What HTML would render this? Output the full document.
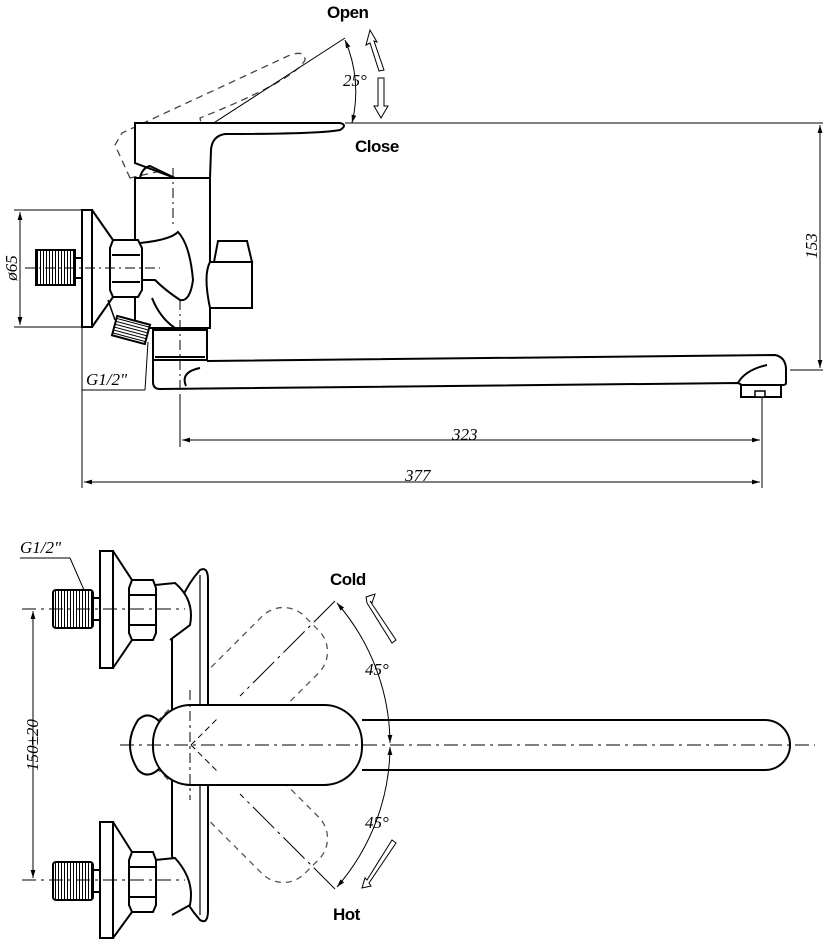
<!DOCTYPE html>
<html><head><meta charset="utf-8"><style>
html,body{margin:0;padding:0;background:#fff;width:823px;height:940px;overflow:hidden}
svg{display:block}
text{stroke:none}
.t{font-family:"Liberation Sans",sans-serif;font-weight:bold;font-size:17px;fill:#000;letter-spacing:-0.5px}
.d{font-family:"Liberation Serif",serif;font-style:italic;font-size:17px;fill:#000}
</style></head><body>
<svg width="823" height="940" viewBox="0 0 823 940" xmlns="http://www.w3.org/2000/svg" fill="none" stroke="#000" stroke-width="2">
<defs>
<marker id="a" viewBox="0 0 10 10" refX="10" refY="5" markerWidth="10" markerHeight="8" orient="auto-start-reverse" markerUnits="userSpaceOnUse"><path d="M0,2 L10,5 L0,8 z" fill="#000" stroke="none"/></marker>
<pattern id="k" width="3" height="10" patternUnits="userSpaceOnUse"><rect width="3" height="10" fill="#fff" stroke="none"/><line x1="1.5" y1="0" x2="1.5" y2="10" stroke="#000" stroke-width="1"/></pattern>
<pattern id="kh" width="10" height="3" patternUnits="userSpaceOnUse"><rect width="10" height="3" fill="#fff" stroke="none"/><line x1="0" y1="1.5" x2="10" y2="1.5" stroke="#000" stroke-width="1"/></pattern>
</defs>

<!-- ===== TOP VIEW ===== -->
<g stroke-dasharray="7,5" stroke-width="1.3" stroke="#444">
<path d="M130,178 L115,145 L122,133 L290,55 Q305,50 305,60 Q295,80 200,118 L208,160 Z"/>
</g>
<line x1="175" y1="148" x2="345" y2="38" stroke-width="1"/>
<path d="M345,40 A130,130 0 0 1 352,123" stroke-width="1" marker-start="url(#a)" marker-end="url(#a)"/>
<text class="d" x="343" y="86">25°</text>
<path d="M366,45 L370,30 L377,42 L374,41 L384,70 L379,71 L370,43 Z" stroke-width="1"/>
<path d="M378,78 L384,78 L384,106 L388,106 L381,118 L374,106 L378,106 Z" stroke-width="1"/>
<text class="t" x="327" y="18">Open</text>
<text class="t" x="355" y="152">Close</text>

<!-- handle -->
<path d="M135,123 L340,123 Q348,125 340,130 Q320,134 225,134 Q212,136 211,150 L210,178 L175,178 L135,163 Z" fill="#fff"/>
<path d="M140,178 Q142,168 150,166 L175,178" />
<rect x="135" y="178" width="75" height="150" fill="#fff"/>
<line x1="173" y1="168" x2="173" y2="225" stroke-width="1" stroke-dasharray="10,4,2,4"/>
<path d="M210,262 Q203,275 210,308 L252,308 L252,262 Z" fill="#fff"/>
<path d="M218,241 L247,241 L252,262 L214,262 Z" fill="#fff"/>
<path d="M140,243 Q170,240 178,232 Q190,245 193,280 Q190,302 180,300 Q165,290 155,280 L140,280 Z" fill="#fff"/>
<path d="M152,298 Q160,318 175,328" />
<!-- spout -->
<path d="M207,361 L775,355 Q785,357 786,368 L786,383 Q786,385 782,385 L742,385 L738,383 L160,389 Q153,389 153,382 L153,360" fill="#fff"/>
<path d="M738,383 Q745,370 767,365" />
<path d="M186,386 Q180,372 200,368" />
<rect x="741" y="385" width="40" height="12" fill="#fff"/>
<rect x="755" y="391" width="10" height="6" fill="#fff" stroke-width="1.5"/>
<!-- fitting below -->
<rect x="153" y="330" width="54" height="30" fill="#fff"/>
<line x1="155" y1="357" x2="205" y2="357"/>
<line x1="180" y1="300" x2="180" y2="395" stroke-width="1" stroke-dasharray="10,4,2,4"/>
<!-- nut -->
<path d="M113,240 L138,240 L142,248 L142,290 L138,297 L113,297 L110,290 L110,248 Z" fill="#fff"/>
<line x1="112" y1="255" x2="140" y2="255"/><line x1="112" y1="282" x2="140" y2="282"/>
<rect x="82" y="210" width="10" height="117" fill="#fff"/>
<path d="M92,210 L113,240 M92,327 L113,297" />
<path d="M108,300 L115,320" stroke-width="1.5"/>
<rect x="36" y="250" width="39" height="35" fill="url(#k)"/>
<rect x="75" y="258" width="7" height="20" fill="#fff"/>
<line x1="25" y1="268" x2="160" y2="268" stroke-width="1" stroke-dasharray="10,4,2,4"/>
<rect x="114" y="320" width="34" height="20" fill="url(#kh)" transform="rotate(15 131 330)"/>
<g stroke-width="1">
<line x1="14" y1="210" x2="82" y2="210"/><line x1="14" y1="327" x2="82" y2="327"/>
<line x1="20" y1="212" x2="20" y2="325" marker-start="url(#a)" marker-end="url(#a)"/>
<line x1="82" y1="327" x2="82" y2="488"/>
<line x1="180" y1="395" x2="180" y2="447"/>
<line x1="762" y1="398" x2="762" y2="488"/>
<line x1="182" y1="440" x2="760" y2="440" marker-start="url(#a)" marker-end="url(#a)"/>
<line x1="84" y1="482" x2="760" y2="482" marker-start="url(#a)" marker-end="url(#a)"/>
<line x1="345" y1="123" x2="826" y2="123"/>
<line x1="790" y1="370" x2="826" y2="370"/>
<line x1="820" y1="125" x2="820" y2="368" marker-start="url(#a)" marker-end="url(#a)"/>
<line x1="82" y1="390" x2="145" y2="390"/>
<line x1="145" y1="390" x2="148" y2="342"/>
</g>
<text class="d" x="452" y="440">323</text>
<text class="d" x="405" y="481">377</text>
<text class="d" x="86" y="385">G1/2"</text>
<text class="d" transform="translate(17,268) rotate(-90)" text-anchor="middle">ø65</text>
<text class="d" transform="translate(817,246) rotate(-90)" text-anchor="middle">153</text>

<!-- ===== BOTTOM VIEW ===== -->
<g stroke-dasharray="6,5" stroke-width="1.3" stroke="#555">
<g transform="rotate(-45 190 745)"><rect x="153" y="705" width="209" height="80" rx="30"/></g>
<g transform="rotate(45 190 745)"><rect x="153" y="705" width="209" height="80" rx="30"/></g>
</g>
<path d="M172,640 L172,855 M172,640 Q175,598 200,570 Q208,566 208,580 L208,910 Q208,925 200,920 Q175,892 172,855" fill="#fff"/>
<path d="M200,575 L200,915" stroke-width="1.2"/>
<path d="M155,585 L175,583 Q195,600 190,625 L170,640" fill="#fff"/>
<path d="M155,860 L175,858 Q195,880 190,905 L172,915" fill="#fff"/>
<rect x="100" y="551" width="13" height="117" fill="#fff"/>
<path d="M113,551 L132,580 M113,668 L132,640"/>
<path d="M132,580 L153,580 L156,588 L156,633 L153,640 L132,640 L129,633 L129,588 Z" fill="#fff"/>
<line x1="130" y1="595" x2="155" y2="595"/><line x1="130" y1="625" x2="155" y2="625"/>
<rect x="53" y="590" width="40" height="38" rx="3" fill="url(#k)"/>
<rect x="93" y="598" width="7" height="22" fill="#fff"/>
<rect x="100" y="822" width="13" height="116" fill="#fff"/>
<path d="M113,822 L132,852 M113,938 L132,912"/>
<path d="M132,852 L153,852 L156,860 L156,905 L153,912 L132,912 L129,905 L129,860 Z" fill="#fff"/>
<line x1="130" y1="867" x2="155" y2="867"/><line x1="130" y1="897" x2="155" y2="897"/>
<rect x="53" y="862" width="40" height="38" rx="3" fill="url(#k)"/>
<rect x="93" y="870" width="7" height="22" fill="#fff"/>
<path d="M362,720 L765,720 A25,25 0 0 1 765,770 L362,770" fill="#fff"/>
<path d="M160,722 Q148,710 138,720 Q122,745 138,770 Q148,780 160,768" fill="#fff"/>
<rect x="153" y="705" width="209" height="80" rx="38" fill="#fff"/>
<g stroke-width="1">
<line x1="120" y1="745" x2="815" y2="745" stroke-dasharray="14,5,3,5"/>
<line x1="190" y1="690" x2="190" y2="800" stroke-dasharray="10,4,3,4"/>
<line x1="22" y1="609" x2="185" y2="609" stroke-dasharray="14,5,3,5"/>
<line x1="22" y1="880" x2="185" y2="880" stroke-dasharray="14,5,3,5"/>
<path d="M191,745 L217,719 M191,745 L217,771" stroke-dasharray="6,4"/>
<line x1="33" y1="611" x2="33" y2="878" marker-start="url(#a)" marker-end="url(#a)"/>
<line x1="20" y1="558" x2="70" y2="558"/><line x1="70" y1="558" x2="84" y2="590"/>
<line x1="335" y1="601" x2="240" y2="696" stroke-dasharray="30,5,3,5"/>
<line x1="335" y1="889" x2="240" y2="794" stroke-dasharray="30,5,3,5"/>
<path d="M337,603 A216,216 0 0 1 390,743" marker-start="url(#a)" marker-end="url(#a)"/>
<path d="M390,747 A216,216 0 0 1 337,887" marker-start="url(#a)" marker-end="url(#a)"/>
<path d="M366,597 L375,594 L372,603 L370,601 L396,640 L392,643 L367,603 Z"/>
<path d="M396,843 L392,840 L367,880 L365,878 L362,888 L371,886 L369,883 Z"/>
</g>
<text class="t" x="330" y="585">Cold</text>
<text class="t" x="333" y="920">Hot</text>
<text class="d" x="365" y="675">45°</text>
<text class="d" x="365" y="828">45°</text>
<text class="d" x="20" y="553">G1/2"</text>
<text class="d" transform="translate(38,745) rotate(-90)" text-anchor="middle">150±20</text>
</svg>
</body></html>
